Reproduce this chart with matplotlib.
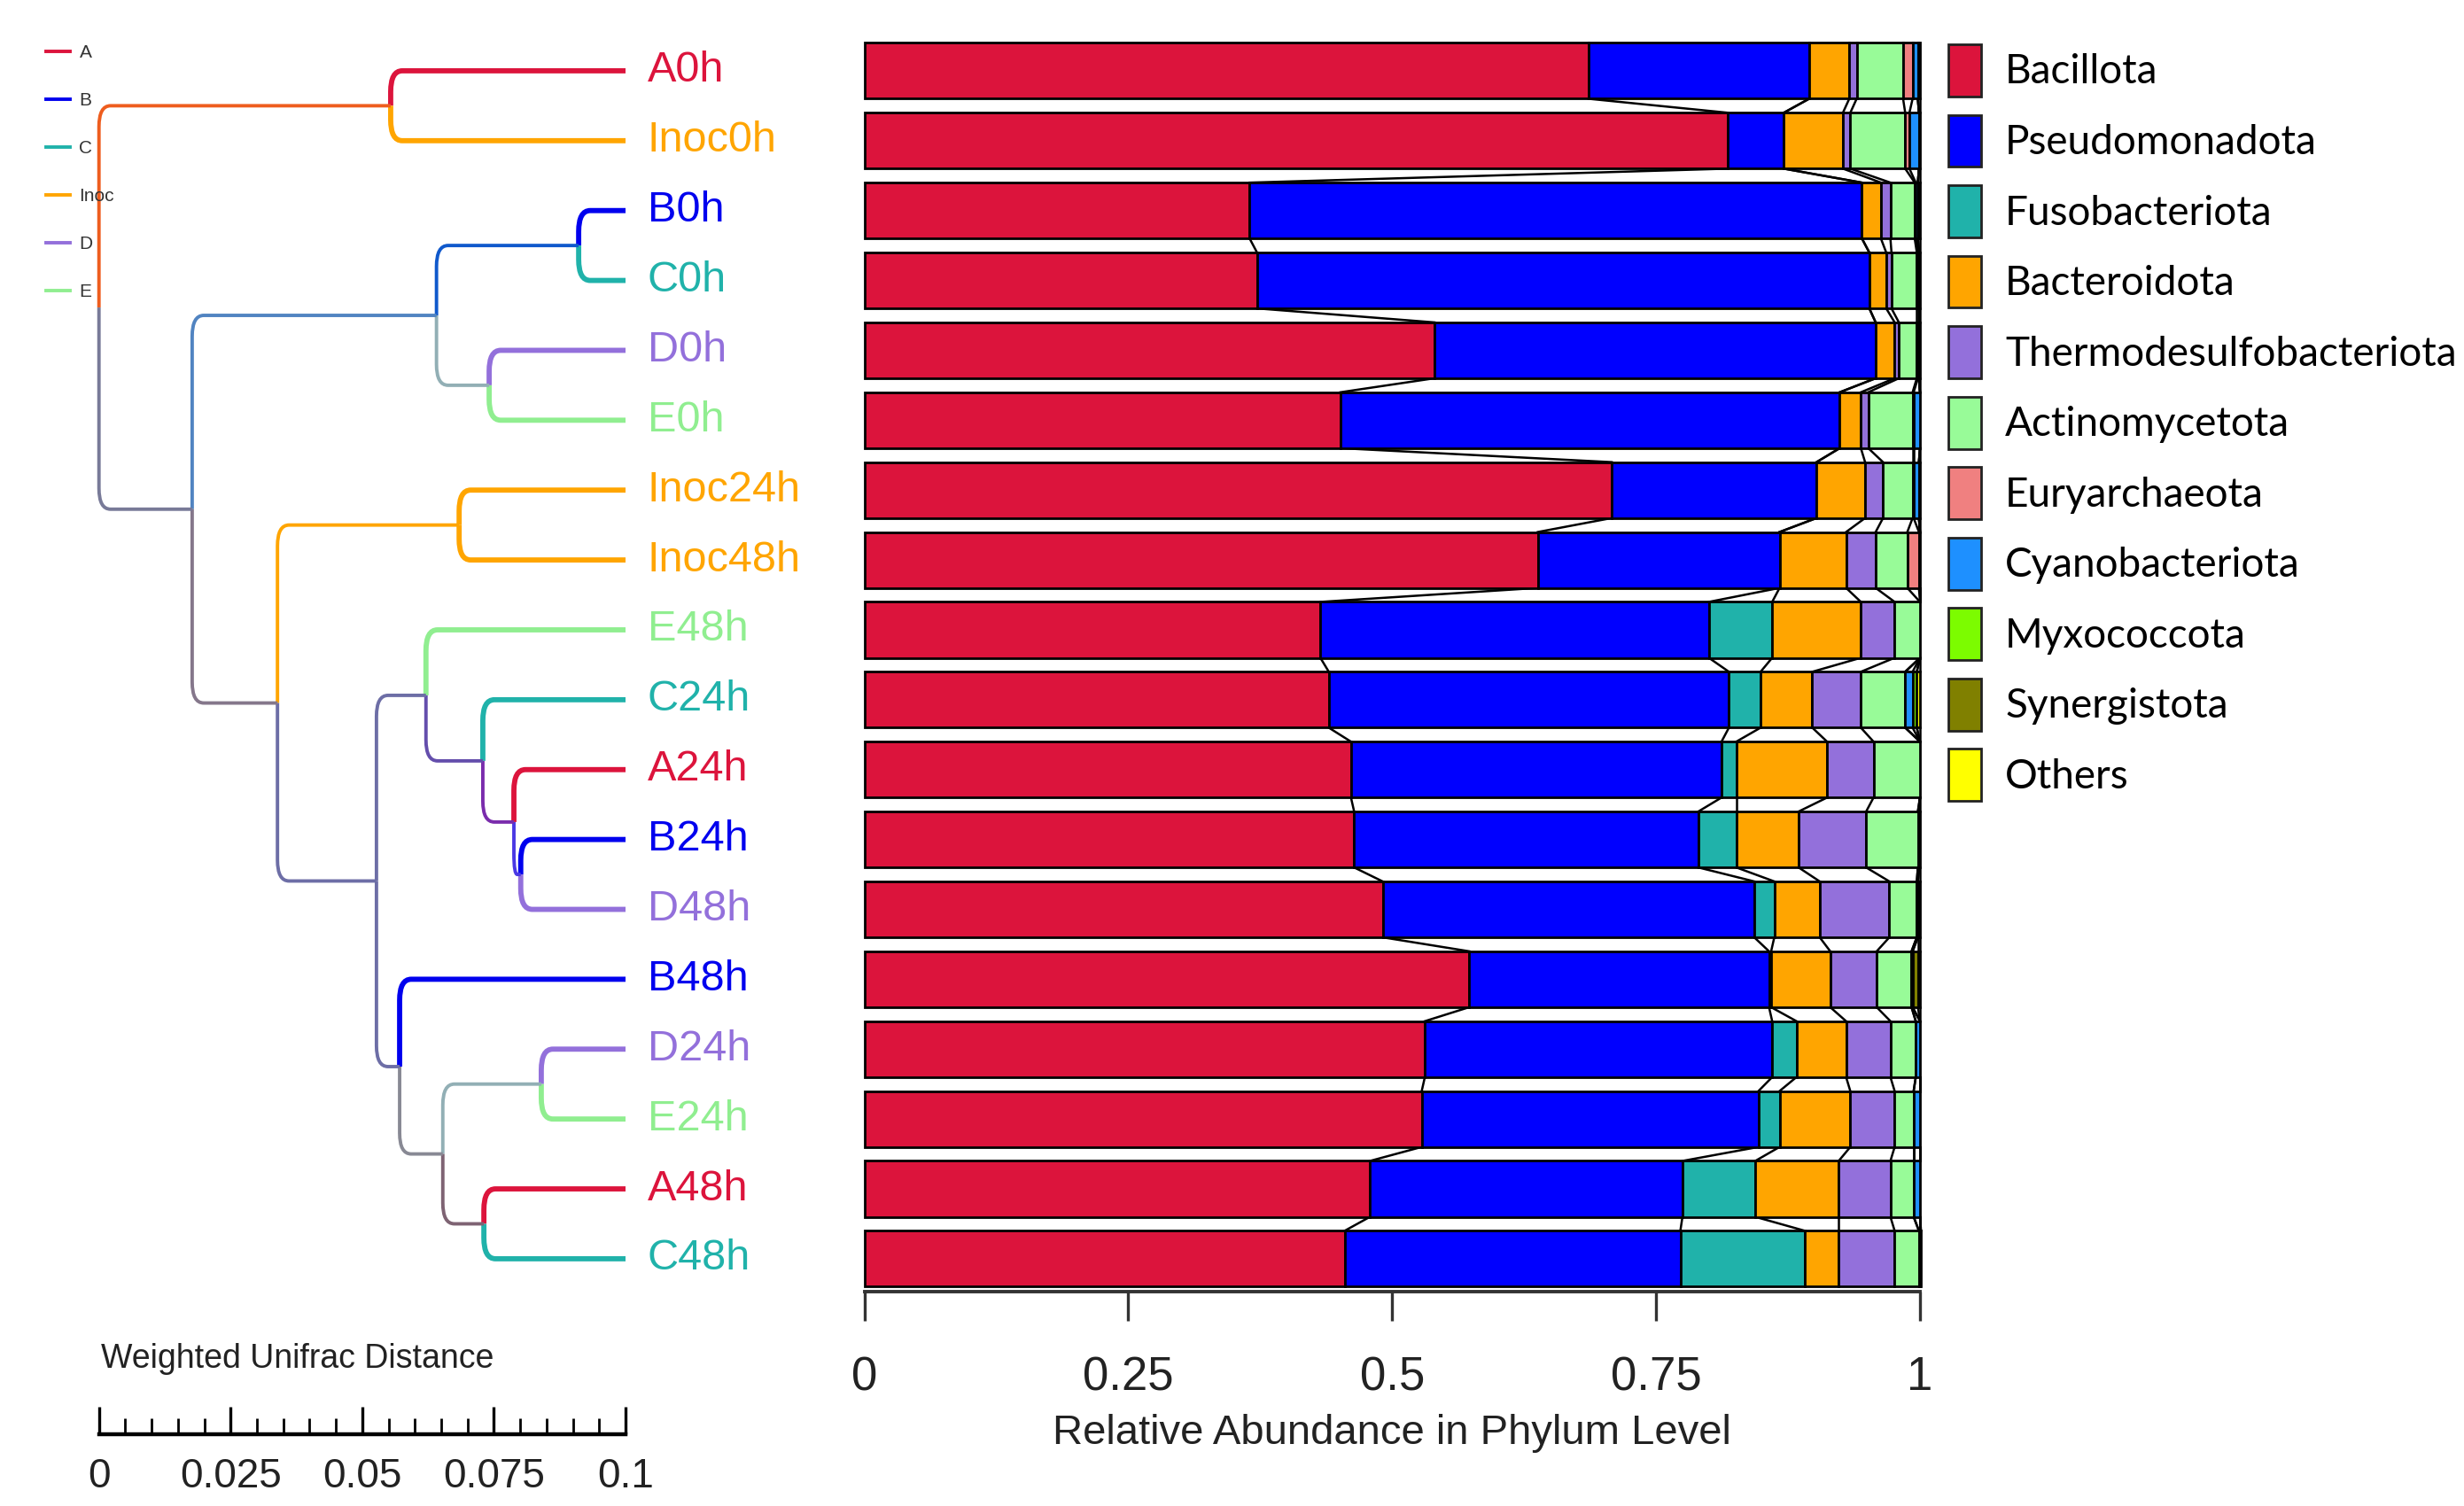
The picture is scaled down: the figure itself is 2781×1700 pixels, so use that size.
import numpy as np
import matplotlib.pyplot as plt
import matplotlib.colors as mcolors
from matplotlib.path import Path
from matplotlib.patches import PathPatch, Patch
from matplotlib.lines import Line2D

# samples in dendrogram (top -> bottom) order
samples = ['A0h', 'Inoc0h', 'B0h', 'C0h', 'D0h', 'E0h', 'Inoc24h', 'Inoc48h', 'E48h',
           'C24h', 'A24h', 'B24h', 'D48h', 'B48h', 'D24h', 'E24h', 'A48h', 'C48h']
sample_group = ['A', 'Inoc', 'B', 'C', 'D', 'E', 'Inoc', 'Inoc', 'E',
                'C', 'A', 'B', 'D', 'B', 'D', 'E', 'A', 'C']
group_names = ['A', 'B', 'C', 'Inoc', 'D', 'E']
group_colors = ['#DC143C', '#0000EE', '#20B2AA', '#FFA500', '#9370DB', '#90EE90']

# relative abundance per phylum, same sample order
phyla = ['Bacillota', 'Pseudomonadota', 'Fusobacteriota', 'Bacteroidota',
         'Thermodesulfobacteriota', 'Actinomycetota', 'Euryarchaeota',
         'Cyanobacteriota', 'Myxococcota', 'Synergistota', 'Others']
phylum_colors = ['#DC143C', '#0000FF', '#20B2AA', '#FFA500', '#9370DB', '#98FB98',
                 '#F08080', '#1E90FF', '#7CFC00', '#808000', '#FFFF00']
bacillota = [0.686, 0.818, 0.365, 0.372, 0.540, 0.451, 0.708, 0.638, 0.432,
             0.440, 0.461, 0.464, 0.491, 0.573, 0.531, 0.528, 0.479, 0.455]
pseudomonadota = [0.209, 0.053, 0.580, 0.580, 0.418, 0.473, 0.194, 0.229, 0.368,
                  0.379, 0.351, 0.326, 0.352, 0.284, 0.329, 0.319, 0.296, 0.318]
fusobacteriota = [0, 0, 0, 0, 0, 0, 0, 0, 0.060,
                  0.030, 0.014, 0.036, 0.019, 0.002, 0.023, 0.020, 0.069, 0.118]
bacteroidota = [0.038, 0.056, 0.018, 0.016, 0.018, 0.020, 0.046, 0.063, 0.084,
                0.049, 0.086, 0.059, 0.043, 0.056, 0.047, 0.067, 0.079, 0.032]
thermodesulfo = [0.007, 0.007, 0.009, 0.005, 0.004, 0.007, 0.017, 0.028, 0.032,
                 0.046, 0.044, 0.064, 0.066, 0.044, 0.042, 0.042, 0.049, 0.053]
actinomycetota = [0.044, 0.052, 0.023, 0.024, 0.017, 0.042, 0.028, 0.030, 0.024,
                  0.042, 0.044, 0.049, 0.026, 0.033, 0.024, 0.018, 0.022, 0.023]
euryarchaeota = [0.009, 0.004, 0.001, 0.001, 0.001, 0.001, 0.001, 0.011, 0,
                 0, 0, 0, 0, 0, 0, 0, 0, 0]
cyanobacteriota = [0.005, 0.009, 0.002, 0.001, 0.001, 0.006, 0.005, 0.001, 0,
                   0.007, 0, 0.001, 0.001, 0.001, 0.004, 0.006, 0.006, 0.001]
myxococcota = [0, 0, 0, 0, 0, 0, 0, 0, 0,
               0.004, 0, 0, 0, 0, 0, 0, 0, 0]
synergistota = [0, 0, 0, 0, 0, 0, 0, 0, 0,
                0, 0, 0, 0, 0.005, 0, 0, 0, 0]
others = [0.002, 0.001, 0.002, 0.001, 0.001, 0, 0.001, 0, 0,
          0.003, 0, 0.001, 0.002, 0.002, 0, 0, 0, 0.001]
abund = [bacillota, pseudomonadota, fusobacteriota, bacteroidota, thermodesulfo,
         actinomycetota, euryarchaeota, cyanobacteriota, myxococcota, synergistota, others]

# weighted unifrac tree: node -> (child1, child2, position on distance scale); leaves sit at 0.1
tree = [
    ('n1', 'A0h', 'Inoc0h', 0.0554),
    ('n2', 'B0h', 'C0h', 0.0911),
    ('n3', 'D0h', 'E0h', 0.0741),
    ('n4', 'n2', 'n3', 0.0641),
    ('n5', 'Inoc24h', 'Inoc48h', 0.0684),
    ('n6', 'B24h', 'D48h', 0.0801),
    ('n7', 'A24h', 'n6', 0.0788),
    ('n8', 'C24h', 'n7', 0.0729),
    ('n9', 'E48h', 'n8', 0.0621),
    ('n10', 'D24h', 'E24h', 0.0840),
    ('n11', 'A48h', 'C48h', 0.0731),
    ('n12', 'n10', 'n11', 0.0653),
    ('n13', 'B48h', 'n12', 0.0571),
    ('n14', 'n9', 'n13', 0.0527),
    ('n15', 'n5', 'n14', 0.0339),
    ('n16', 'n4', 'n15', 0.0177),
    ('root', 'n1', 'n16', 0.0),
]
leaf_x = 0.1

narrow = ['Liberation Sans', 'DejaVu Sans']

W, H = 2781, 1700
fig = plt.figure(figsize=(W / 200, H / 200), dpi=200)

def fx(px):
    return px / W

def fy(py):
    return 1 - py / H

ylim = (17.47, -0.6)
ax_bot, ax_top = 1458, 32.6

# ---------------- bar chart ----------------
ax = fig.add_axes([fx(975.5), fy(ax_bot), fx(2167) - fx(975.5), fy(ax_top) - fy(ax_bot)])
rows = np.arange(len(samples))
data = np.array(abund)
left = np.zeros(len(samples))
for k in range(len(phyla)):
    w = data[k]
    m = w > 0
    ax.barh(rows[m], w[m], left=left[m], height=0.8, color=phylum_colors[k],
            edgecolor='black', linewidth=1.0, clip_on=False, zorder=3)
    left = left + w
cum = np.cumsum(data, axis=0)
for k in range(len(phyla)):
    for i in range(len(samples) - 1):
        ax.plot([cum[k, i], cum[k, i + 1]], [i + 0.4, i + 0.6], color='black',
                lw=0.9, clip_on=False, zorder=2)
ax.set_xlim(0, 1)
ax.set_ylim(*ylim)
for s in ['top', 'right', 'left']:
    ax.spines[s].set_visible(False)
ax.spines['bottom'].set_bounds(0, 1)
ax.spines['bottom'].set_linewidth(1.4)
ax.spines['bottom'].set_color('#333333')
ax.set_yticks([])
ax.set_xticks([0, 0.25, 0.5, 0.75, 1])
ax.set_xticklabels(['0', '0.25', '0.5', '0.75', '1'], family=narrow, fontsize=19, color='#222222')
ax.tick_params(axis='x', length=12, width=1.2, color='#333333', pad=14)
ax.set_xlabel('Relative Abundance in Phylum Level', family=narrow, fontsize=17, color='#222222')
ax.xaxis.set_label_coords(0.5, (ax_bot - 1618) / (ax_bot - ax_top))
ax.xaxis.label.set_va('center')

# ---------------- dendrogram ----------------
axd = fig.add_axes([fx(111.7), fy(ax_bot), fx(706) - fx(111.7), fy(ax_top) - fy(ax_bot)])
axd.set_xlim(0, 0.1)
axd.set_ylim(*ylim)
axd.axis('off')

gcol = dict(zip(group_names, group_colors))
pos = {}
leaves = {}
for i, s in enumerate(samples):
    pos[s] = (leaf_x, float(i))
    leaves[s] = [s]
for name, c1, c2, x in tree:
    pos[name] = (x, (pos[c1][1] + pos[c2][1]) / 2)
    leaves[name] = leaves[c1] + leaves[c2]

def branch_color(node):
    rgb = [mcolors.to_rgb(gcol[sample_group[samples.index(l)]]) for l in leaves[node]]
    return np.mean(rgb, axis=0)

for name, c1, c2, x in tree:
    px, py = pos[name]
    for c in (c1, c2):
        cx, cy = pos[c]
        dy = cy - py
        s = np.sign(dy)
        ry = min(0.3, abs(dy))
        rx = min(0.0022, (cx - px) * 0.5)
        verts = [(px, py), (px, cy - s * ry), (px, cy), (px + rx, cy), (cx, cy)]
        codes = [Path.MOVETO, Path.LINETO, Path.CURVE3, Path.CURVE3, Path.LINETO]
        is_leaf = c in samples
        axd.add_patch(PathPatch(Path(verts, codes), fill=False, edgecolor=branch_color(c),
                                lw=2.1 if is_leaf else 1.4, capstyle='butt', clip_on=False))

for i, s in enumerate(samples):
    axd.text(leaf_x + 0.0042, i, s, color=gcol[sample_group[i]], family=narrow,
             fontsize=17.5, va='center', ha='left', clip_on=False)

# group legend
ghandles = [Line2D([], [], color=c, lw=1.4) for c in group_colors]
fig.legend(ghandles, group_names, loc='upper left', bbox_to_anchor=(fx(52), fy(50)),
           frameon=False, handlelength=1.3, handletextpad=0.5,
           labelspacing=1.68, borderpad=0, borderaxespad=0, labelcolor='#333333',
           prop={'family': narrow, 'size': 7.5})

# distance scale
axs = fig.add_axes([fx(111.7), fy(1618.6), fx(706) - fx(111.7), 0.04])
axs.set_xlim(0, 0.1)
for s in ['top', 'right', 'left']:
    axs.spines[s].set_visible(False)
axs.spines['bottom'].set_linewidth(1.6)
axs.set_yticks([])
axs.set_xticks([0, 0.025, 0.05, 0.075, 0.1])
axs.set_xticklabels(['0', '0.025', '0.05', '0.075', '0.1'], family=narrow, fontsize=16.5, color='#222222')
axs.set_xticks(np.arange(0, 0.1001, 0.005), minor=True)
axs.tick_params(axis='x', which='major', direction='in', length=11, width=1.2, pad=9.5)
axs.tick_params(axis='x', which='minor', direction='in', length=6.5, width=1.0)
axs.patch.set_alpha(0)
fig.text(fx(114), fy(1534), 'Weighted Unifrac Distance', family=narrow, fontsize=13.5,
         color='#222222', ha='left', va='center')

# phylum legend
phandles = [Patch(facecolor=c, edgecolor='#222222', linewidth=1.0) for c in phylum_colors]
fig.legend(phandles, phyla, loc='upper left', bbox_to_anchor=(fx(2199), fy(50)),
           frameon=False, prop={'family': ['Lato', 'DejaVu Sans'], 'size': 16.5},
           handlelength=0.8, handleheight=1.6, handletextpad=0.6, labelspacing=0.45,
           borderpad=0, borderaxespad=0)

fig.savefig('out.png', dpi=200, facecolor='white')
